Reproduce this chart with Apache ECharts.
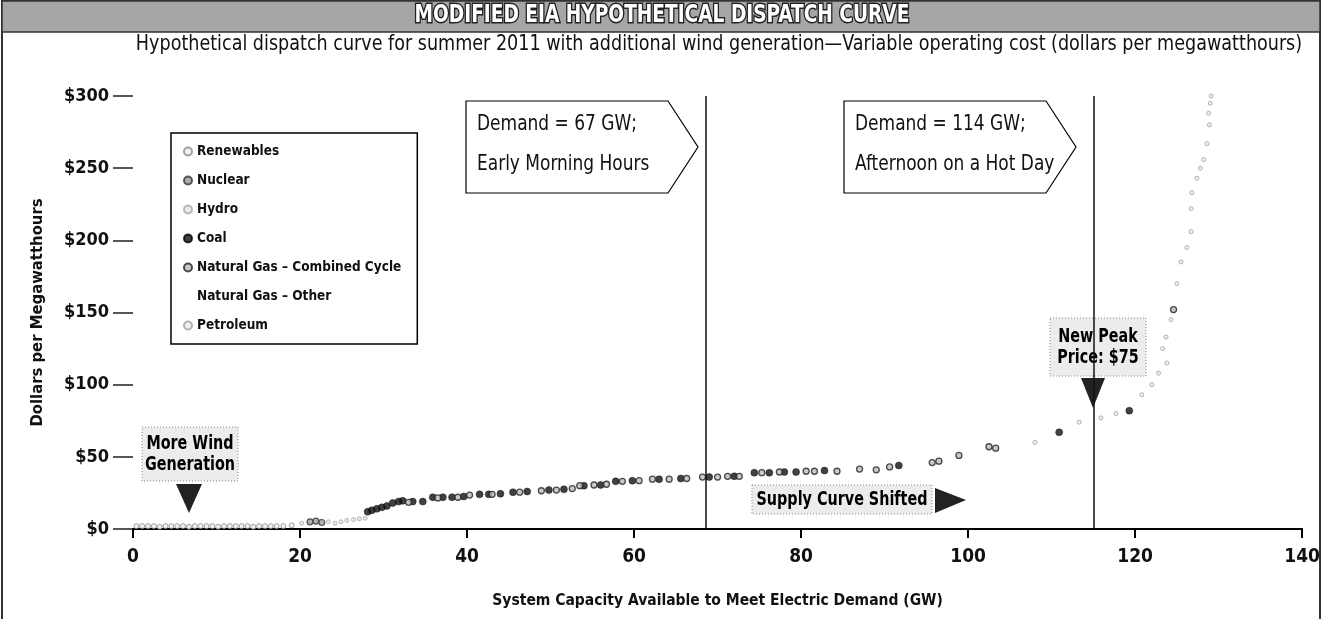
<!DOCTYPE html>
<html>
<head>
<meta charset="utf-8">
<script src="https://cdn.jsdelivr.net/npm/echarts@6/dist/echarts.min.js"></script>
<style>
  html, body { margin: 0; padding: 0; background: #fff; }
  #main { width: 1323px; height: 619px; }
</style>
</head>
<body>
<div id="main"></div>
<script>
const FONT = "Liberation Sans Narrow, DejaVu Sans Condensed, sans-serif";

// capacity (GW), variable cost ($/MWh)
const seriesNames = ['Renewables', 'Nuclear', 'Hydro', 'Coal', 'Natural Gas – Combined Cycle', 'Natural Gas – Other', 'Petroleum'];
const renewables = [[0.4,2],[1.1,2],[1.8,2],[2.5,2],[3.2,1.5],[3.9,2],[4.6,2],[5.3,2],[6.0,2],[6.7,1.5],[7.4,2],[8.1,2],[8.8,2],[9.5,2],[10.2,1.5],[10.9,2],[11.6,2],[12.3,2],[13.0,2],[13.7,2],[14.4,1.5],[15.1,2],[15.8,2],[16.5,2],[17.2,2],[18.0,2],[19.0,2.5]];
const nuclear = [[21.2,5],[21.9,5.5],[22.6,4.5]];
const hydro = [[20.2,4],[23.4,5],[24.2,4],[24.9,5],[25.6,6],[26.4,6.5],[27.1,7],[27.8,7.5]];
const coal = [[28.1,12],[28.6,13],[29.2,14],[29.8,15],[30.4,16],[31.1,18],[31.8,19],[32.3,19.5],[33.5,19],[34.7,19],[35.9,22],[37.1,22],[38.2,22],[39.6,22.5],[41.5,24],[42.6,24],[44.0,24.5],[45.5,25.5],[47.2,26],[49.8,27],[51.6,27.5],[54.0,30],[56.0,30.5],[57.8,33],[59.8,33.5],[63.0,34.5],[65.6,35],[69.0,36],[72.0,36.5],[74.4,39],[76.2,39],[78.0,39.5],[79.4,39.5],[82.8,40.5],[91.7,44],[110.9,67],[119.3,82]];
const gasCombined = [[33.0,18.5],[36.5,21.5],[38.9,22],[40.3,23.5],[43.0,24],[46.3,25.5],[48.9,26.5],[50.7,27],[52.6,28],[53.5,30],[55.2,30.5],[56.7,31],[58.6,33],[60.6,33.5],[62.2,34.5],[64.2,34.5],[66.3,35],[68.2,36],[70.0,36],[71.2,36.5],[72.6,36.5],[75.3,39],[77.4,39.5],[80.6,40],[81.6,40],[84.3,40],[87.0,41.5],[89.0,41],[90.6,43],[95.7,46],[96.5,47],[98.9,51],[102.5,57],[103.3,56],[124.6,152]];
const gasOther = [];
const petroleum = [[108.0,60],[113.3,74],[115.9,77],[117.7,80],[120.8,93],[122.0,100],[122.8,108],[123.3,125],[123.8,115],[123.7,133],[124.3,145],[125.0,170],[125.5,185],[126.2,195],[126.7,206],[126.7,222],[126.8,233],[127.4,243],[127.8,250],[128.2,256],[128.6,267],[128.9,280],[128.8,288],[129.0,295],[129.1,300]];

// demand lines (GW)
const demandLines = [68.6, 115.0];

const xMin = 0, xMax = 140, xStep = 20;
const yMin = 0, yMax = 300, yStep = 50;

const chart = echarts.init(document.getElementById('main'));

function dots(name, data, size, fill, border, bw) {
  return {
    name: name,
    type: 'scatter',
    data: data,
    symbol: 'circle',
    symbolSize: size,
    itemStyle: { color: fill, borderColor: border, borderWidth: bw },
    emphasis: { disabled: true },
    z: 3
  };
}

// text squeezed horizontally, the source uses a condensed face
function txt(x, y, text, size, weight, sx, extra) {
  return {
    type: 'text', x: x, y: y, scaleX: sx,
    style: Object.assign({ text: text, fontFamily: FONT, fontSize: size, fontWeight: weight, fill: '#111' }, extra || {})
  };
}

// arrow-shaped demand box
function demandBox(x, y, w, h, tip, lines) {
  return [
    {
      type: 'polygon',
      shape: { points: [[x, y], [x + w, y], [x + w + tip, y + h / 2], [x + w, y + h], [x, y + h]] },
      style: { fill: '#fff', stroke: '#000', lineWidth: 1.2 }
    },
    txt(x + 11, y + 24, lines[0], 21, 'normal', 0.9, { verticalAlign: 'middle' }),
    txt(x + 11, y + 64, lines[1], 21, 'normal', 0.9, { verticalAlign: 'middle' })
  ];
}

function callout(x, y, w, h, text, size) {
  return [
    {
      type: 'rect', shape: { x: x, y: y, width: w, height: h },
      style: { fill: '#ececec', stroke: '#8a8a8a', lineWidth: 1, lineDash: [1, 2] }
    },
    txt(x + w / 2, y + h / 2 + 1, text, size, 'bold', 0.84, { fill: '#000', align: 'center', verticalAlign: 'middle', lineHeight: size + 2 })
  ];
}

const graphics = [
  // frame and title bar
  { type: 'rect', shape: { x: 2, y: 1, width: 1318, height: 640 }, style: { fill: 'none', stroke: '#333', lineWidth: 2 } },
  { type: 'rect', shape: { x: 2, y: 1, width: 1318, height: 31 }, style: { fill: '#a6a6a6', stroke: '#333', lineWidth: 1.5 } },
  txt(662, 16, 'MODIFIED EIA HYPOTHETICAL DISPATCH CURVE', 24, 'bold', 0.86, { fill: '#fff', stroke: '#222', lineWidth: 3, align: 'center', verticalAlign: 'middle' }),
  txt(719, 45, 'Hypothetical dispatch curve for summer 2011 with additional wind generation\u2014Variable operating cost (dollars per megawatthours)', 21, 'normal', 0.93, { align: 'center', verticalAlign: 'middle' })
]
  .concat(demandBox(466, 101, 202, 92, 30, ['Demand = 67 GW;', 'Early Morning Hours']))
  .concat(demandBox(844, 101, 202, 92, 30, ['Demand = 114 GW;', 'Afternoon on a Hot Day']))
  .concat(callout(142, 427, 96, 54, 'More Wind\nGeneration', 19))
  .concat([{ type: 'polygon', shape: { points: [[176, 484], [202, 484], [189, 513]] }, style: { fill: '#222' } }])
  .concat(callout(752, 485, 180, 29, 'Supply Curve Shifted', 19))
  .concat([{ type: 'polygon', shape: { points: [[935, 488], [935, 513], [966, 500]] }, style: { fill: '#222' } }])
  .concat(callout(1050, 318, 96, 58, 'New Peak\nPrice: $75', 19))
  .concat([{ type: 'polygon', shape: { points: [[1081, 378], [1105, 378], [1093, 408]] }, style: { fill: '#222' } }]);

chart.setOption({
  animation: false,
  backgroundColor: '#fff',
  grid: { left: 133, right: 20, top: 96, bottom: 90, containLabel: false },
  legend: {
    orient: 'vertical',
    left: 171,
    top: 133,
    data: seriesNames,
    icon: 'circle',
    itemWidth: 8,
    itemHeight: 8,
    itemGap: 12,
    padding: [10, 16, 10, 12],
    borderColor: '#000',
    borderWidth: 1.5,
    backgroundColor: '#fff',
    selectedMode: false,
    textStyle: { fontFamily: FONT, fontWeight: 'bold', fontSize: 13.5, color: '#111', lineHeight: 17 }
  },
  xAxis: {
    type: 'value',
    min: xMin, max: xMax, interval: xStep,
    name: 'System Capacity Available to Meet Electric Demand (GW)',
    nameLocation: 'middle',
    nameGap: 64,
    nameTextStyle: { fontFamily: FONT, fontWeight: 'bold', fontSize: 15.5, color: '#111' },
    axisLine: { show: true, onZero: false, lineStyle: { color: '#000', width: 2 } },
    axisTick: { show: true, length: 9, lineStyle: { color: '#000', width: 2 } },
    axisLabel: { margin: 19, fontFamily: FONT, fontWeight: 'bold', fontSize: 19, color: '#111' },
    splitLine: { show: false }
  },
  yAxis: {
    type: 'value',
    min: yMin, max: yMax, interval: yStep,
    name: 'Dollars per Megawatthours',
    nameLocation: 'middle',
    nameGap: 87,
    nameTextStyle: { fontFamily: FONT, fontWeight: 'bold', fontSize: 16.5, color: '#111' },
    axisLine: { show: false },
    axisTick: { show: true, length: 20, lineStyle: { color: '#222', width: 1.5 } },
    axisLabel: { margin: 24, fontFamily: FONT, fontWeight: 'bold', fontSize: 18, color: '#111', formatter: v => '$' + v },
    splitLine: { show: false }
  },
  series: [
    dots(seriesNames[0], renewables, 5, '#eeeeee', '#8a8a8a', 1),
    dots(seriesNames[1], nuclear, 6, '#9a9a9a', '#333', 1.2),
    dots(seriesNames[2], hydro, 4, '#e4e4e4', '#a8a8a8', 1),
    dots(seriesNames[3], coal, 7, '#111', '#000', 0.5),
    dots(seriesNames[4], gasCombined, 6, '#bdbdbd', '#222', 1.3),
    dots(seriesNames[5], gasOther, 6, 'rgba(255,255,255,0)', 'rgba(255,255,255,0)', 0),
    dots(seriesNames[6], petroleum, 4, '#ececec', '#a0a0a0', 1),
    {
      name: 'demand',
      type: 'scatter',
      data: [],
      silent: true,
      markLine: {
        symbol: 'none',
        silent: true,
        label: { show: false },
        lineStyle: { color: '#111', width: 1.5, type: 'solid' },
        data: demandLines.map(v => ({ xAxis: v }))
      }
    }
  ],
  graphic: graphics
});
</script>
</body>
</html>
